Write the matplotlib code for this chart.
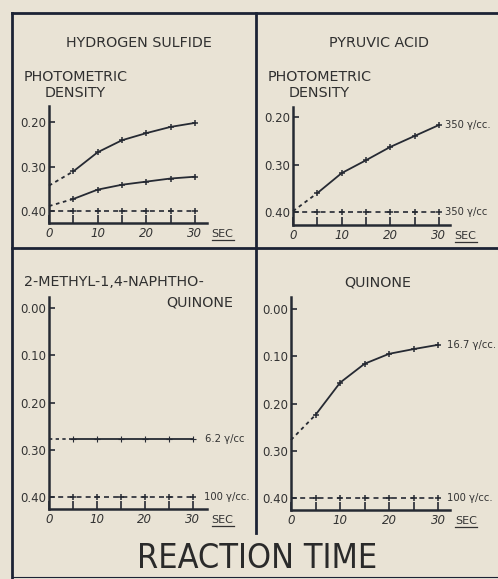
import matplotlib
matplotlib.use("Agg")
import matplotlib.pyplot as plt
from matplotlib.lines import Line2D

# time points (sec) where readings were taken
t_pts = [5, 10, 15, 20, 25, 30]
t_all = [0, 5, 10, 15, 20, 25, 30]

# hydrogen sulfide (two curves + control)
h2s_high_start = 0.343
h2s_high = [0.311, 0.268, 0.241, 0.225, 0.211, 0.202]
h2s_low_start = 0.389
h2s_low = [0.373, 0.352, 0.341, 0.334, 0.327, 0.323]
h2s_ctrl = [0.40, 0.40, 0.40, 0.40, 0.40, 0.40, 0.40]

# pyruvic acid
pyr_start = 0.398
pyr_350 = [0.360, 0.318, 0.291, 0.263, 0.240, 0.217]
pyr_ctrl = [0.40, 0.40, 0.40, 0.40, 0.40, 0.40, 0.40]

# 2-methyl-1,4-naphthoquinone
naph_62 = [0.277, 0.277, 0.277, 0.277, 0.277, 0.277, 0.277]
naph_100 = [0.40, 0.40, 0.40, 0.40, 0.40, 0.40, 0.40]

# quinone
quin_start = 0.277
quin_167 = [0.224, 0.156, 0.116, 0.095, 0.085, 0.076]
quin_100 = [0.40, 0.40, 0.40, 0.40, 0.40, 0.40, 0.40]

top_yticks = [0.20, 0.30, 0.40]
top_ylabels = ["0.20", "0.30", "0.40"]
bot_yticks = [0.00, 0.10, 0.20, 0.30, 0.40]
bot_ylabels = ["0.00", "0.10", "0.20", "0.30", "0.40"]
xticks = [0, 5, 10, 15, 20, 25, 30]
xlabels = ["0", "", "10", "", "20", "", "30"]

BG = "#e9e3d5"
INK = "#262a33"
FRAME = "#1c2335"
W, H = 498, 579
COND = ["DejaVu Sans Condensed", "DejaVu Sans"]

fig = plt.figure(figsize=(W / 100, H / 100), dpi=100)
fig.patch.set_facecolor(BG)


def px_axes(left, top, right, bottom):
    return fig.add_axes([left / W, 1 - bottom / H, (right - left) / W, (bottom - top) / H])


def fx(x):
    return x / W


def fy(y):
    return 1 - y / H


def style_axis(ax, xlim, ylim, yticks, ylabels):
    ax.set_facecolor("none")
    ax.set_xlim(*xlim)
    ax.set_ylim(*ylim)
    for s in ["top", "right"]:
        ax.spines[s].set_visible(False)
    for s in ["left", "bottom"]:
        ax.spines[s].set_color(INK)
        ax.spines[s].set_linewidth(1.8)
    ax.set_yticks(yticks)
    ax.set_yticklabels(ylabels)
    ax.set_xticks(xticks)
    ax.set_xticklabels(xlabels)
    ax.tick_params(axis="y", direction="in", length=4, width=1.2, color=INK,
                   labelsize=8.5, labelcolor="#333333", pad=2)
    ax.tick_params(axis="x", direction="in", length=6, width=1.2, color=INK,
                   labelsize=8.5, labelcolor="#333333", pad=3)
    for lbl in ax.get_xticklabels():
        lbl.set_style("italic")
    # underlined SEC
    h = ax.get_position().height * H
    ax.text(1.03, -11 / h, "SEC", transform=ax.transAxes, fontsize=8,
            color="#333333", ha="left", va="center", clip_on=False)
    ax.add_line(Line2D([1.03, 1.17], [-17 / h, -17 / h], transform=ax.transAxes,
                       color="#333333", lw=0.9, clip_on=False))


def curve(ax, start, vals):
    ax.plot([0, t_pts[0]], [start, vals[0]], color=INK, lw=1.3, ls=(0, (2, 2)), clip_on=False)
    ax.plot(t_pts, vals, color=INK, lw=1.3, marker="+", ms=5, mew=1.1, clip_on=False)


def control(ax, vals):
    ax.plot(t_all, vals, color=INK, lw=1.2, ls=(0, (3, 2.5)), clip_on=False)
    ax.plot(t_all[1:], vals[1:], ls="none", color=INK, marker="+", ms=5, mew=1.1, clip_on=False)


def label(ax, x, y, s):
    ax.text(x, y, s, fontsize=8, color="#333333", ha="left", va="center",
            family=COND, fontstretch="condensed", clip_on=False)


# --- hydrogen sulfide
ax1 = px_axes(49, 106, 207, 223)
style_axis(ax1, (0, 32.5), (0.427, 0.164), top_yticks, top_ylabels)
curve(ax1, h2s_high_start, h2s_high)
curve(ax1, h2s_low_start, h2s_low)
control(ax1, h2s_ctrl)

# --- pyruvic acid
ax2 = px_axes(293, 107, 450, 225)
style_axis(ax2, (0, 32.3), (0.427, 0.179), top_yticks, top_ylabels)
curve(ax2, pyr_start, pyr_350)
control(ax2, pyr_ctrl)
label(ax2, 31.3, pyr_350[-1], "350 γ/cc.")
label(ax2, 31.3, pyr_ctrl[-1], "350 γ/cc")

# --- 2-methyl-1,4-naphthoquinone
ax3 = px_axes(49, 297, 207, 509)
style_axis(ax3, (0, 33), (0.425, -0.023), bot_yticks, bot_ylabels)
ax3.plot(t_all[:2], naph_62[:2], color=INK, lw=1.2, ls=(0, (2, 2)), clip_on=False)
ax3.plot(t_all[1:], naph_62[1:], color=INK, lw=1.3, marker="+", ms=4, mew=0.8, clip_on=False)
control(ax3, naph_100)
label(ax3, 32.6, naph_62[-1], "6.2 γ/cc")
label(ax3, 32.3, naph_100[-1], "100 γ/cc.")

# --- quinone
ax4 = px_axes(291, 297, 450, 510)
style_axis(ax4, (0, 32.4), (0.425, -0.025), bot_yticks, bot_ylabels)
curve(ax4, quin_start, quin_167)
control(ax4, quin_100)
label(ax4, 31.8, quin_167[-1], "16.7 γ/cc.")
label(ax4, 31.8, quin_100[-1], "100 γ/cc.")

# --- titles and y-axis captions
tk = dict(fontsize=10.3, color="#303030")
fig.text(fx(139), fy(43), "HYDROGEN SULFIDE", ha="center", va="center", **tk)
fig.text(fx(379), fy(43), "PYRUVIC ACID", ha="center", va="center", **tk)
fig.text(fx(24), fy(77), "PHOTOMETRIC", ha="left", va="center", **tk)
fig.text(fx(45), fy(93), "DENSITY", ha="left", va="center", **tk)
fig.text(fx(268), fy(77), "PHOTOMETRIC", ha="left", va="center", **tk)
fig.text(fx(289), fy(93), "DENSITY", ha="left", va="center", **tk)
fig.text(fx(24), fy(282), "2-METHYL-1,4-NAPHTHO-", ha="left", va="center", **tk)
fig.text(fx(200), fy(302), "QUINONE", ha="center", va="center", **tk)
fig.text(fx(378), fy(282), "QUINONE", ha="center", va="center", **tk)

fig.text(fx(257), fy(559), "REACTION TIME", ha="center", va="center",
         fontsize=24.5, color="#2a2a2a", fontstretch="condensed", fontweight="light",
         family=COND)

# --- frame lines
fl = dict(color=FRAME, lw=2.0)
fig.add_artist(Line2D([fx(12), fx(498)], [fy(13), fy(13)], **fl))
fig.add_artist(Line2D([fx(12), fx(12)], [fy(13), fy(578)], **fl))
fig.add_artist(Line2D([fx(12), fx(498)], [fy(248), fy(248)], **fl))
fig.add_artist(Line2D([fx(256), fx(256)], [fy(13), fy(533)], **fl))
fig.add_artist(Line2D([fx(12), fx(498)], [fy(577), fy(577)], color=FRAME, lw=0.8))

fig.savefig("out.png", dpi=100, facecolor=BG)
